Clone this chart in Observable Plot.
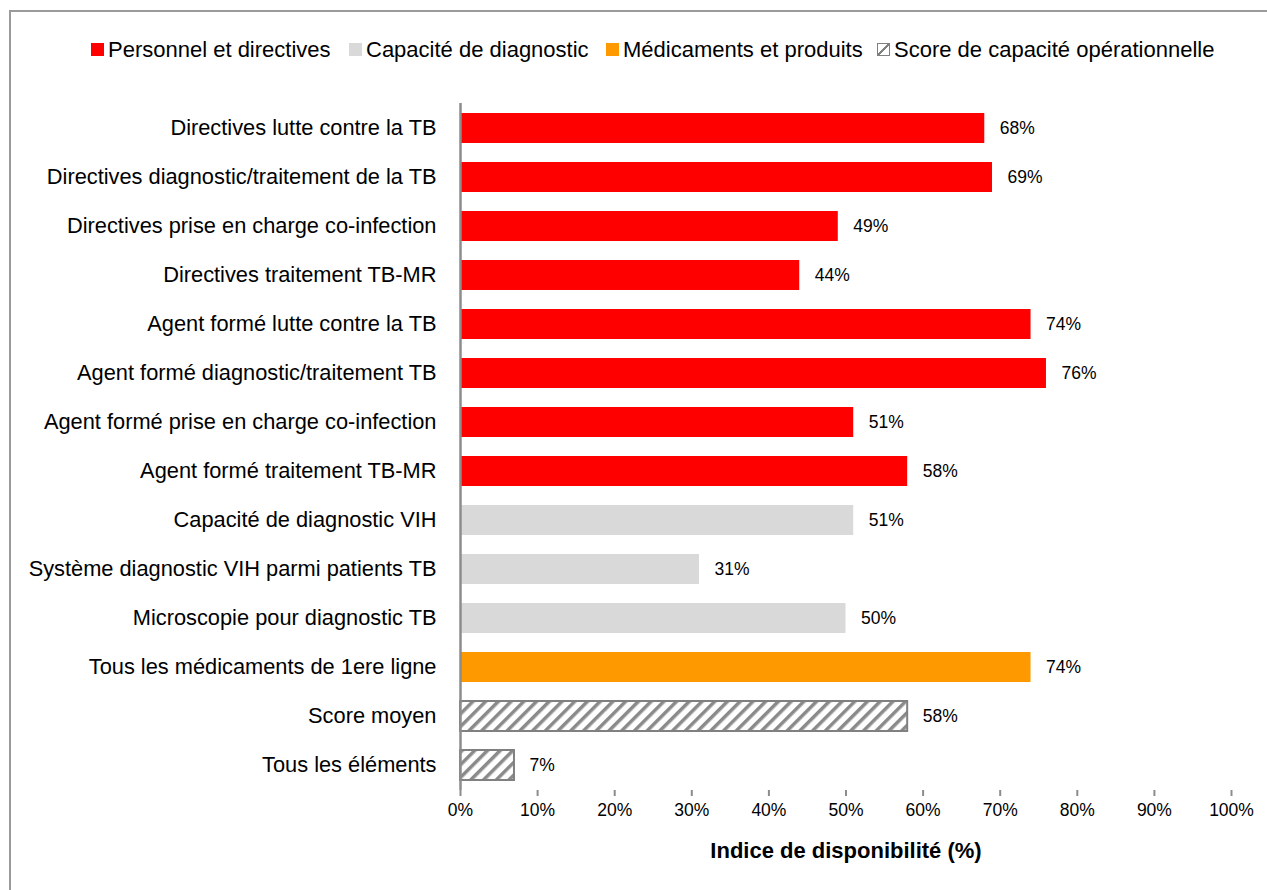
<!DOCTYPE html>
<html><head><meta charset="utf-8">
<script src="https://cdn.jsdelivr.net/npm/d3@7"></script>
<script src="https://cdn.jsdelivr.net/npm/@observablehq/plot@0.6"></script>
<style>
html,body{margin:0;padding:0;background:#fff;overflow:hidden;width:1267px;height:890px;font-family:"Liberation Sans",Arial,sans-serif;}
#frame{position:absolute;left:9px;top:10px;width:1400px;height:1000px;border:2px solid #9a9a9a;box-sizing:border-box;z-index:10;pointer-events:none;background:transparent;}
#legend{position:absolute;left:0;top:0;width:1267px;height:90px;}
.li{position:absolute;top:35px;font-size:22px;color:#000;white-space:nowrap;line-height:30px;}
.sw{display:inline-block;width:13px;height:13px;margin-right:4px;vertical-align:1px;box-sizing:border-box;}
#chart{position:absolute;left:0;top:90px;}
</style></head>
<body>
<div id="frame"></div>
<div id="legend"></div>
<div id="chart"></div>
<script>
const categories = [
  "Directives lutte contre la TB",
  "Directives diagnostic/traitement de la TB",
  "Directives prise en charge co-infection",
  "Directives traitement TB-MR",
  "Agent formé lutte contre la TB",
  "Agent formé diagnostic/traitement TB",
  "Agent formé prise en charge co-infection",
  "Agent formé traitement TB-MR",
  "Capacité de diagnostic VIH",
  "Système diagnostic VIH parmi patients TB",
  "Microscopie pour diagnostic TB",
  "Tous les médicaments de 1ere ligne",
  "Score moyen",
  "Tous les éléments"
];
const values = [68, 69, 49, 44, 74, 76, 51, 58, 51, 31, 50, 74, 58, 7];
const groups = [
  "Personnel et directives","Personnel et directives","Personnel et directives","Personnel et directives",
  "Personnel et directives","Personnel et directives","Personnel et directives","Personnel et directives",
  "Capacité de diagnostic","Capacité de diagnostic","Capacité de diagnostic",
  "Médicaments et produits",
  "Score de capacité opérationnelle","Score de capacité opérationnelle"
];
const seriesNames = ["Personnel et directives","Capacité de diagnostic","Médicaments et produits","Score de capacité opérationnelle"];
const seriesColors = ["#ff0000","#d9d9d9","#ff9900","url(#hatch)"];
const xTicks = [0,10,20,30,40,50,60,70,80,90,100];
const xLabel = "Indice de disponibilité (%)";

const data = categories.map((c,i)=>({cat:c, value:values[i], group:groups[i]}));
const colorOf = g => seriesColors[seriesNames.indexOf(g)];

const plot = Plot.plot({
  width: 1267, height: 800,
  marginLeft: 460, marginRight: 36, marginTop: 13, marginBottom: 100,
  style: {fontFamily: '"Liberation Sans", Arial, sans-serif', background: "transparent", color:"#000"},
  x: {domain:[0,100], ticks: xTicks, tickFormat: d => d + "%", label: null},
  y: {domain: categories, paddingInner: 0.39, paddingOuter: 0.195, label: null},
  marks: [
    Plot.barX(data, {y:"cat", x:"value", fill: d => colorOf(d.group),
      stroke: d => d.group === seriesNames[3] ? "#808080" : "none", strokeWidth: 2}),
    Plot.text(data, {y:"cat", x:"value", text: d => d.value + "%", dx: 15, textAnchor:"start", fontSize: 17.5, fill:"#000"}),
    Plot.ruleX([0], {stroke:"#8c8c8c", strokeWidth:2.5}),
    Plot.ruleY([0], {stroke:"#8c8c8c", strokeWidth:2}),
    Plot.axisX({ticks: xTicks, tickFormat: d => d + "%", tickSize: 6, tickPadding: 7, stroke:"#8c8c8c", fontSize: 17.5, label: null}),
    Plot.axisY({tickSize: 0, tickPadding: 24, fontSize: 21.8, label: null}),
    Plot.text([xLabel], {frameAnchor:"bottom", dy: 67, fontSize: 22, fontWeight:"bold", fill:"#000"})
  ]
});
// hatch pattern
const svg = d3.select(plot);
const defs = svg.insert("defs", ":first-child");
const pat = defs.append("pattern").attr("id","hatch").attr("patternUnits","userSpaceOnUse")
  .attr("width",9).attr("height",9).attr("patternTransform","rotate(45)");
pat.append("rect").attr("width",9).attr("height",9).attr("fill","#fff");
pat.append("rect").attr("width",3.5).attr("height",9).attr("fill","#8a8a8a");
svg.selectAll("[aria-label='x-axis tick'] path, [aria-label='x-axis tick'] line").attr("stroke","#8c8c8c").attr("stroke-width",2);
document.getElementById("chart").appendChild(plot);

// legend
const lg = document.getElementById("legend");
const lefts = [91, 349, 606, 877];
seriesNames.forEach((n,i)=>{
  const d = document.createElement("div");
  d.className = "li"; d.style.left = lefts[i] + "px";
  const s = document.createElement("span"); s.className = "sw";
  if (i === 3) {
    s.style.border = "1.5px solid #808080";
    s.style.background = "linear-gradient(135deg,#fff 0 45%,#808080 45% 55%,#fff 55% 100%)";
  } else s.style.background = seriesColors[i];
  d.appendChild(s);
  d.appendChild(document.createTextNode(n));
  lg.appendChild(d);
});
</script>
</body></html>
